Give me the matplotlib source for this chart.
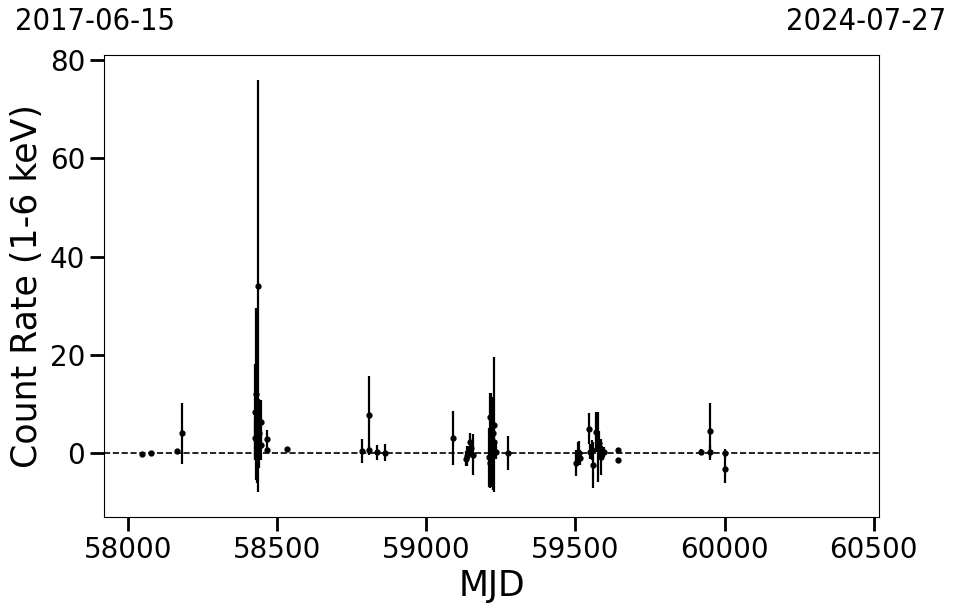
import matplotlib
matplotlib.use('Agg')
import matplotlib.pyplot as plt
import numpy as np

# light curve values
mjd = [58047, 58077, 58164, 58181,
       58424, 58426, 58430, 58432, 58434, 58437, 58440, 58444, 58446, 58465, 58465, 58533,
       58783, 58809, 58809, 58835, 58862,
       59090, 59132, 59137, 59141, 59145, 59149, 59155,
       59210, 59213, 59215, 59218, 59220, 59222, 59224, 59226, 59228, 59232, 59274,
       59502, 59508, 59512, 59515, 59545, 59550, 59555, 59560, 59570, 59575, 59580, 59585, 59590, 59596, 59643, 59643,
       59922, 59952, 59952, 60003, 60003]
rate = [-0.2, 0.1, 0.5, 4.0,
        8.3, 3.0, 12.0, 6.0, 2.0, 34.0, 4.0, 6.3, 1.6, 2.8, 0.6, 0.8,
        0.4, 7.7, 0.6, 0.15, 0.1,
        3.0, -1.1, -0.6, 0.2, 2.3, 1.0, -0.3,
        -0.8, 7.3, -2.1, 2.7, 0.6, 2.0, 4.0, 2.3, 5.8, 0.3, 0.0,
        -2.0, 0.3, 0.0, -1.0, 5.0, 0.3, 0.6, -2.4, 4.3, 1.3, 2.0, -0.8, 0.0, 0.3, 0.6, -1.4,
        0.3, 0.3, 4.4, 0.0, -3.3]
err = [0.3, 0.3, 0.4, 6.2,
       9.8, 4.0, 17.5, 12.0, 5.0, 42.0, 7.0, 4.5, 3.0, 1.9, 0.5, 0.3,
       2.4, 8.0, 0.8, 1.6, 1.8,
       5.5, 1.5, 2.0, 1.2, 1.8, 1.5, 4.2,
       6.0, 4.9, 5.0, 9.5, 2.0, 9.5, 3.0, 2.5, 13.7, 1.5, 3.4,
       2.7, 2.0, 2.5, 1.5, 3.1, 1.5, 2.0, 4.7, 4.1, 7.1, 2.5, 3.6, 1.5, 1.0, 0.5, 0.5,
       0.6, 1.3, 5.8, 0.8, 2.7]

start_mjd, stop_mjd = 57919, 60518
start_label, stop_label = '2017-06-15', '2024-07-27'

fig = plt.figure(figsize=(9.57, 6.13), dpi=100)
ax = fig.add_axes([0.1087, 0.1566, 0.8098, 0.7537])

ax.errorbar(mjd, rate, yerr=err, fmt='o', color='black', markersize=3.5,
            elinewidth=1.6, capsize=0)
ax.axhline(0, color='black', ls='--', lw=1.2)

ax.set_xlim(start_mjd, stop_mjd)
ax.set_ylim(-13, 81)
ax.set_xticks([58000, 58500, 59000, 59500, 60000, 60500])
ax.set_yticks([0, 20, 40, 60, 80])
ax.tick_params(labelsize=20, length=10, width=2)
ax.set_xlabel('MJD', fontsize=25)
ax.set_ylabel('Count Rate (1-6 keV)', fontsize=25)

fig.text(15 / 957, 1 - 22 / 613, start_label, fontsize=22, ha='left', va='center',
         fontstretch='condensed')
fig.text(946 / 957, 1 - 22 / 613, stop_label, fontsize=22, ha='right', va='center',
         fontstretch='condensed')

fig.savefig('out.png', dpi=100)
